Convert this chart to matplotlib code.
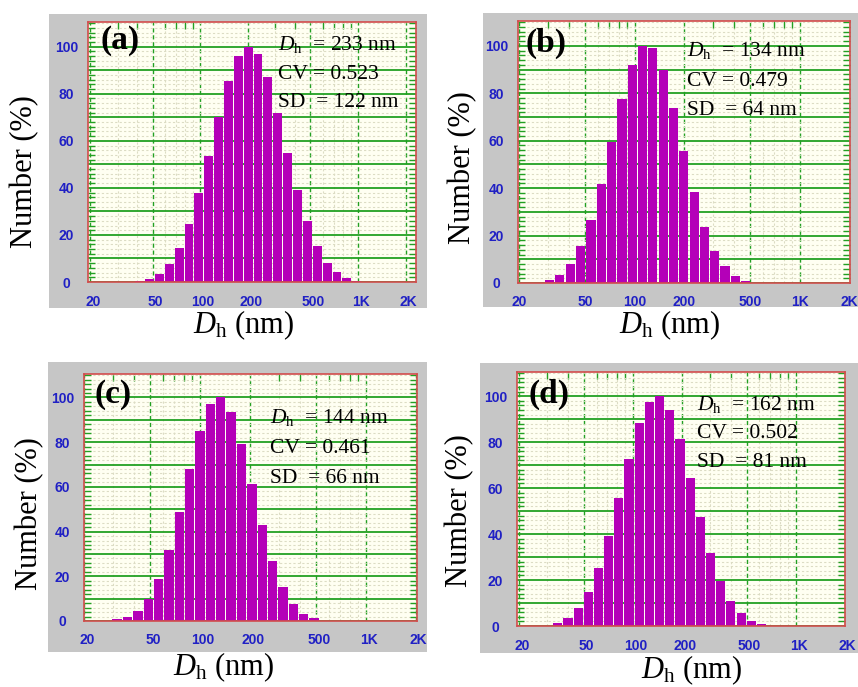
import matplotlib
matplotlib.use('Agg')
import matplotlib.pyplot as plt
from matplotlib.patches import Rectangle
from matplotlib.transforms import ScaledTranslation
from matplotlib.ticker import FixedLocator, LogLocator, MultipleLocator, NullFormatter

# bin centres (nm) and number (%)
sizesA = [41.4, 47.8, 55.2, 63.8, 73.6, 85.0, 98.2, 113.4, 130.9, 151.2, 174.6, 201.6,
	232.8, 268.9, 310.5, 358.5, 414.0, 478.1, 552.1, 637.5, 736.2, 850.2, 981.8]
numberA = [0.3, 1.4, 3.6, 7.7, 14.5, 24.5, 37.7, 53.7, 70, 85.5, 96, 100,
	97, 87, 72, 55, 39, 26, 15.2, 8.1, 4.3, 1.6, 0.3]

sizesB = [30.6, 35.3, 40.8, 47.1, 54.4, 62.8, 72.6, 83.8, 96.8, 111.7, 129.0, 149.0,
	172.1, 198.7, 229.5, 265.0, 306.0, 353.4, 408.1, 471.2]
numberB = [1.4, 3.5, 8.1, 15.4, 26.6, 41.8, 59.3, 77.4, 92, 100, 99, 89.8,
	74, 55.8, 38.4, 23.8, 13.7, 7, 3.1, 1]

sizesC = [31.7, 36.6, 42.3, 48.8, 56.4, 65.1, 75.2, 86.8, 100.3, 115.8, 133.7, 154.4,
	178.3, 205.9, 237.8, 274.6, 317.0, 366.1, 422.8, 488.2]
numberC = [0.7, 1.9, 4.6, 9.9, 19, 31.7, 48.8, 68, 85, 96.9, 100, 93.6,
	79.3, 61.2, 43, 27, 15.1, 7.8, 3.3, 1.2]

sizesD = [34.7, 40.1, 46.3, 53.4, 61.7, 71.3, 82.3, 95.0, 109.7, 126.7, 146.3, 169.0,
	195.1, 225.3, 260.2, 300.5, 347.0, 400.7, 462.8, 534.4, 617.1]
numberD = [1.2, 3.5, 8, 14.9, 25.4, 39, 55.6, 72.8, 88.3, 97.4, 100, 93.9,
	81.2, 64.5, 47.3, 31.9, 19.7, 11, 5.6, 2.3, 0.9]

panelLabels = ['(a)', '(b)', '(c)', '(d)']
dhValues = ['233', '134', '144', '162']
cvValues = ['0.523', '0.479', '0.461', '0.502']
sdValues = ['122', '64', '66', '81']

xTicks = [20, 50, 100, 200, 500, 1000, 2000]
xTickLabels = ['20', '50', '100', '200', '500', '1K', '2K']
yTicks = [0, 10, 20, 30, 40, 50, 60, 70, 80, 90, 100]
yTickLabels = ['0', '', '20', '', '40', '', '60', '', '80', '', '100']

# layout in pixels of the 858x687 picture (left, top, right, bottom)
figW = 858
figH = 687
axesBoxes = [(88, 22, 416, 282), (518, 21, 849.5, 283), (84, 374, 417, 621), (517, 372, 845, 626)]
frameBoxes = [(49, 14, 427, 308), (483, 13, 880, 307), (48, 362, 427, 652), (480, 363, 880, 653)]
xLimits = [(19.5, 2330), (19.7, 2000), (20, 2040), (19.5, 2010)]
labelShift = [3, 0, 3, 3]
labelPos = [(120, 41), (546, 43), (113, 395), (549, 394)]
statPos = [(278, 50), (687, 56), (270, 423), (697, 410)]
statStep = [28.7, 29.5, 30, 28.5]
xLabelPos = [(244, 325), (670, 325), (224, 667), (692, 670)]
yLabelPos = [(25, 172), (463, 168), (30, 514), (460, 511)]

barColor = '#B400B8'
gridGreen = '#22A022'
tickBlue = '#2020C4'
serif = 'Liberation Serif'

plt.rcParams['mathtext.fontset'] = 'custom'
plt.rcParams['mathtext.rm'] = serif
plt.rcParams['mathtext.it'] = serif + ':italic'


def figBox(box):
	l, t, r, b = box
	return [l/figW, 1 - b/figH, (r - l)/figW, (b - t)/figH]
#enddef figBox


def setUpPanel(fig, i, sizes, numbers):
	# gray instrument frame behind the plot
	l, t, r, b = frameBoxes[i]
	fig.add_artist(Rectangle((l/figW, 1 - b/figH), (r - l)/figW, (b - t)/figH,
		transform=fig.transFigure, facecolor='#C6C6C6', edgecolor='none', zorder=0))

	ax = fig.add_axes(figBox(axesBoxes[i]))
	ax.set_facecolor('#FFFFF2')
	ax.set_xscale('log')
	ax.set_xlim(*xLimits[i])
	ax.set_ylim(0, 110.5)

	# bars: 16 bins per decade, a small white gap between them
	half = 10 ** (0.0625 * 0.9 / 2)
	lefts = [s / half for s in sizes]
	widths = [s * half - s / half for s in sizes]
	ax.bar(lefts, numbers, width=widths, align='edge', color=barColor,
		edgecolor='none', zorder=3)

	ax.xaxis.set_major_locator(FixedLocator(xTicks))
	ax.set_xticklabels(xTickLabels)
	ax.xaxis.set_minor_locator(LogLocator(base=10, subs=range(1, 10), numticks=20))
	ax.xaxis.set_minor_formatter(NullFormatter())
	ax.set_yticks(yTicks)
	ax.set_yticklabels(yTickLabels)
	ax.yaxis.set_minor_locator(MultipleLocator(2))

	# grid like the instrument screen
	ax.grid(which='minor', color='#DCDCC4', linestyle=(0, (2, 2)), linewidth=0.8, zorder=1)
	ax.grid(which='major', axis='y', color=gridGreen, linestyle='-', linewidth=1.3, zorder=2)
	ax.grid(which='major', axis='x', color=gridGreen, linestyle=(0, (3, 2)), linewidth=1.0, zorder=2)
	ax.set_axisbelow(True)

	ax.tick_params(which='both', direction='in', color=gridGreen, top=True, right=True,
		bottom=False, labelbottom=True, labelcolor=tickBlue)
	ax.tick_params(which='major', length=0)
	ax.tick_params(which='minor', length=5, width=1)
	ax.tick_params(axis='y', which='major', pad=15.5)
	ax.tick_params(axis='x', which='major', pad=9)
	for lab in ax.get_yticklabels():
		lab.set_ha('center')
	shift = ScaledTranslation(labelShift[i]/100, 0, fig.dpi_scale_trans)
	for lab in ax.get_xticklabels():
		lab.set_transform(lab.get_transform() + shift)
	for lab in ax.get_xticklabels() + ax.get_yticklabels():
		lab.set_fontfamily('Liberation Sans')
		lab.set_fontweight('bold')
		lab.set_fontsize(10)
	for sp in ax.spines.values():
		sp.set_color('#D24C4C')
		sp.set_linewidth(1.2)
		sp.set_zorder(4)

	# panel letter and statistics
	x, y = labelPos[i]
	fig.text(x/figW, 1 - y/figH, panelLabels[i], fontfamily=serif, fontweight='bold',
		fontsize=24, ha='center', va='center')
	x, y = statPos[i]
	lines = [r'$D_\mathrm{h}$  = ' + dhValues[i] + ' nm', 'CV = ' + cvValues[i],
		'SD  = ' + sdValues[i] + ' nm']
	for k, txt in enumerate(lines):
		fig.text(x/figW, 1 - (y + k*statStep[i])/figH, txt, fontfamily=serif,
			fontsize=15.5, ha='left', va='baseline')
	#endfor

	x, y = xLabelPos[i]
	fig.text(x/figW, 1 - y/figH, r'$D_\mathrm{h}$ (nm)', fontfamily=serif, fontsize=22,
		ha='center', va='center')
	x, y = yLabelPos[i]
	fig.text(x/figW, 1 - y/figH, 'Number (%)', fontfamily=serif, fontsize=22,
		rotation=90, ha='center', va='center')
#enddef setUpPanel


def main():
	fig = plt.figure(figsize=(figW/100, figH/100), dpi=100)
	fig.patch.set_facecolor('white')
	allSizes = [sizesA, sizesB, sizesC, sizesD]
	allNumbers = [numberA, numberB, numberC, numberD]
	for i in range(4):
		setUpPanel(fig, i, allSizes[i], allNumbers[i])
	fig.savefig('out.png', dpi=100)
#enddef main


if __name__ == '__main__':
	main()
